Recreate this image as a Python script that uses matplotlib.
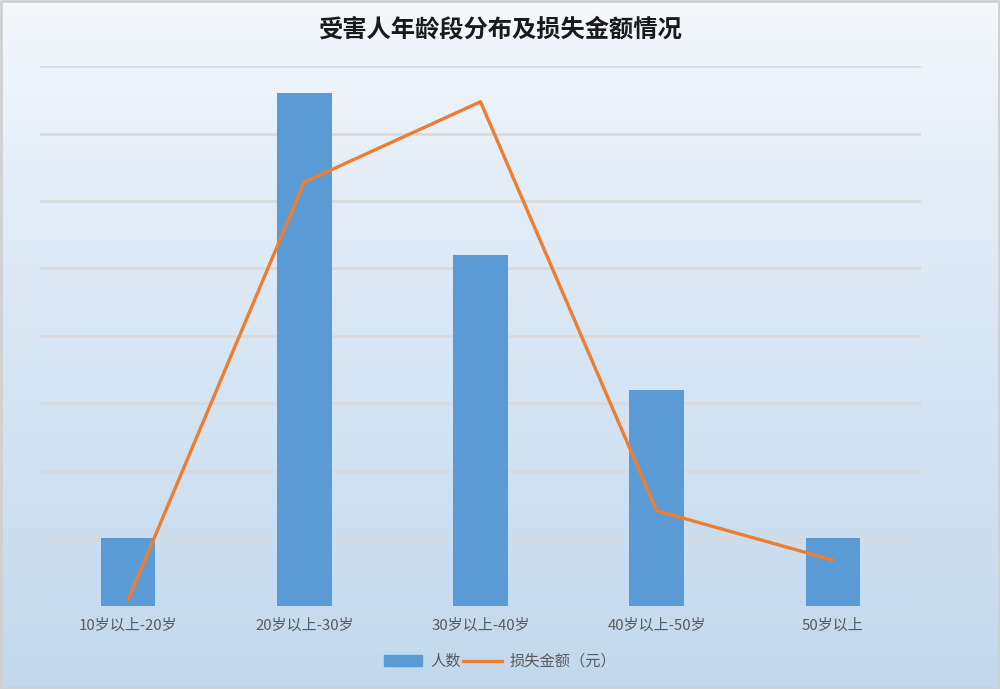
import numpy as np
import matplotlib.pyplot as plt

plt.rcParams['font.family'] = ['Noto Sans CJK SC', 'DejaVu Sans']

# data
categories = ['10岁以上-20岁', '20岁以上-30岁', '30岁以上-40岁', '40岁以上-50岁', '50岁以上']
people = [5, 38, 26, 16, 5]
loss = [0.9, 62.8, 74.7, 14.1, 6.8]

fig = plt.figure(figsize=(10, 6.89), dpi=100)

# gradient background
bg = fig.add_axes([0, 0, 1, 1], zorder=-10)
grad = np.linspace(0, 1, 256).reshape(-1, 1) ** 0.8
top = np.array([0.965, 0.976, 0.992])
bot = np.array([0.76, 0.85, 0.93])
img = top + (bot - top) * grad[:, :, None]
bg.imshow(img, aspect='auto', extent=[0, 1, 0, 1], origin='upper')
bg.plot([0.001, 0.999, 0.999, 0.001, 0.001], [0.001, 0.001, 0.999, 0.999, 0.001], color='#d0d0d0', lw=2)
bg.set_xlim(0, 1)
bg.set_ylim(0, 1)
bg.axis('off')

ax = fig.add_axes([0.04, 0.1205, 0.881, 0.7837])
ax.patch.set_alpha(0)
x = np.arange(len(categories))
ax.bar(x, people, width=0.31, color='#5B9BD5', zorder=3)
ax.set_xlim(-0.5, len(categories) - 0.5)
ax.set_ylim(0, 40)
ax.set_yticks(np.arange(0, 41, 5))
ax.set_yticklabels([])
ax.tick_params(axis='y', length=0)
ax.tick_params(axis='x', length=0, pad=9, labelsize=10.8, labelcolor='#595959')
ax.set_xticks(x)
ax.set_xticklabels(categories)
ax.grid(axis='y', color='#d9d9d9', lw=1.8, zorder=0)
for s in ax.spines.values():
    s.set_visible(False)

ax2 = ax.twinx()
ax2.plot(x, loss, color='#ED7D31', lw=2.4, zorder=4, solid_capstyle='round')
ax2.set_ylim(0, 80)
ax2.set_yticks([])
for s in ax2.spines.values():
    s.set_visible(False)

fig.text(0.5, 0.957, '受害人年龄段分布及损失金额情况', ha='center', va='center',
         fontsize=17.5, fontweight='bold', color='#1a1a1a')

h1 = plt.Rectangle((0, 0), 1, 1, color='#5B9BD5')
h2 = plt.Line2D([0], [0], color='#ED7D31', lw=2.4)
fig.legend([h1, h2], ['人数', '损失金额（元）'], loc='center', bbox_to_anchor=(0.5, 0.04),
           ncol=2, frameon=False, fontsize=11, labelcolor='#595959',
           handlelength=2.5, handletextpad=0.5, columnspacing=0.2)

fig.savefig('out.png', dpi=100)
